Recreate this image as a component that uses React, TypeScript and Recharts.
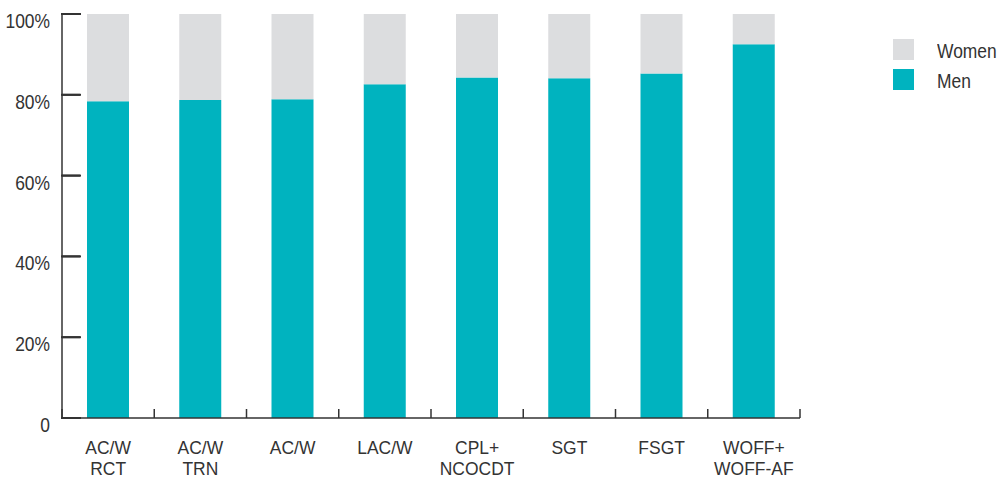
import { BarChart, Bar, XAxis, YAxis, CartesianGrid } from 'recharts'

const categories = ['AC/W\nRCT', 'AC/W\nTRN', 'AC/W', 'LAC/W', 'CPL+\nNCOCDT', 'SGT', 'FSGT', 'WOFF+\nWOFF-AF']
const menShare = [78.4, 78.7, 78.9, 82.6, 84.3, 84.1, 85.3, 92.5]
const womenShare = [21.6, 21.3, 21.1, 17.4, 15.7, 15.9, 14.7, 7.5]
const yTicks = [0, 20, 40, 60, 80, 100]

const series = [
  { key: 'women', name: 'Women', color: '#DCDDDF' },
  { key: 'men', name: 'Men', color: '#00B3BF' },
]

// no narrow font installed, so squeeze Liberation Sans horizontally
const FONT = "'Liberation Sans', Arial, sans-serif"
const INK = '#333333'
const X_GAP = 8 // default tickSize 6 + tickMargin 2 on the category axis

const data = categories.map((c, i) => ({
  category: c,
  men: menShare[i],
  women: womenShare[i],
}))

const YTick = (props: any) => {
  const x = Number(props.x)
  const y = Number(props.y)
  const v = props.payload.value
  return (
    <g>
      <line x1={x + 11} x2={x + 31} y1={y} y2={y} stroke={INK} strokeWidth={2} />
      <g transform={`translate(${x},${y + 14}) scale(0.83,1)`}>
        <text x={0} y={0} textAnchor="end" fontFamily={FONT} fontSize={21} fill={INK}>
          {v === 0 ? '0' : `${v}%`}
        </text>
      </g>
    </g>
  )
}

const XTick = (props: any) => {
  const x = Number(props.x)
  const axisY = Number(props.y) - X_GAP
  const { payload, index, visibleTicksCount } = props
  const half = payload.offset ?? 46
  const lines = String(payload.value).split('\n')
  const isLast = index === visibleTicksCount - 1
  return (
    <g>
      <line x1={x - half} x2={x - half} y1={axisY} y2={axisY - 9} stroke={INK} strokeWidth={1.5} />
      {isLast && <line x1={x + half} x2={x + half} y1={axisY} y2={axisY - 9} stroke={INK} strokeWidth={1.5} />}
      <g transform={`translate(${x},${axisY + 36}) scale(0.92,1)`}>
        <text x={0} y={0} textAnchor="middle" fontFamily={FONT} fontSize={19} fill={INK}>
          {lines.map((l, i) => (
            <tspan key={i} x={0} dy={i === 0 ? 0 : 21}>
              {l}
            </tspan>
          ))}
        </text>
      </g>
    </g>
  )
}

// short inward ticks on the value axis, drawn as grid stubs
const tickStub = (p: any) => (
  <line
    key={`stub-${p.index}`}
    x1={Number(p.x1)}
    x2={Number(p.x1) + 18}
    y1={Number(p.y1)}
    y2={Number(p.y2)}
    stroke={INK}
    strokeWidth={2}
  />
)

export default function App() {
  return (
    <div style={{ position: 'absolute', left: 0, top: 0, width: 1003, height: 479, background: '#fff' }}>
      <BarChart
        width={1003}
        height={479}
        data={data}
        margin={{ top: 14, right: 203, bottom: 1, left: 0 }}
      >
        <CartesianGrid vertical={false} horizontal={tickStub} />
        <XAxis
          dataKey="category"
          height={60}
          tickSize={6}
          tickMargin={2}
          tickLine={{ stroke: 'none' }}
          interval={0}
          tick={<XTick />}
          axisLine={{ stroke: INK, strokeWidth: 1.5 }}
        />
        <YAxis
          width={62}
          domain={[0, 100]}
          ticks={yTicks}
          tickSize={0}
          tickMargin={12}
          tickLine={false}
          interval={0}
          tick={<YTick />}
          axisLine={{ stroke: INK, strokeWidth: 1.5 }}
        />
        <Bar dataKey="men" name="Men" stackId="a" fill="#00B3BF" barSize={42} isAnimationActive={false} />
        <Bar dataKey="women" name="Women" stackId="a" fill="#DCDDDF" barSize={42} isAnimationActive={false} />
      </BarChart>
      <div style={{ position: 'absolute', left: 893, top: 34, fontFamily: FONT, fontSize: 21, color: INK }}>
        {series.map(s => (
          <div key={s.key} style={{ display: 'flex', alignItems: 'center', height: 30 }}>
            <div style={{ width: 21, height: 21, background: s.color, marginRight: 23, flexShrink: 0 }} />
            <span style={{ display: 'inline-block', transform: 'scaleX(0.83)', transformOrigin: 'left center', marginTop: 3 }}>
              {s.name}
            </span>
          </div>
        ))}
      </div>
    </div>
  )
}
